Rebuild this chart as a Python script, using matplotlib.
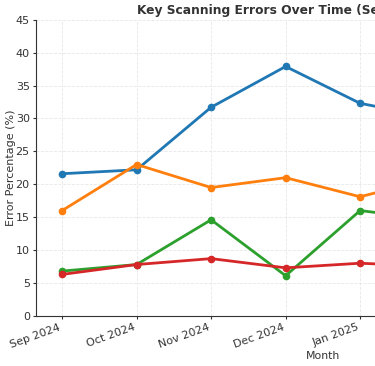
import matplotlib
matplotlib.use("Agg")
import matplotlib.pyplot as plt

months = ["Sep 2024", "Oct 2024", "Nov 2024", "Dec 2024",
          "Jan 2025", "Feb 2025", "Mar 2025", "Apr 2025"]
missed_keys = [21.6, 22.2, 31.7, 37.9, 32.3, 30.1, 27.5, 25.0]
false_positives = [16.0, 23.0, 19.5, 21.0, 18.1, 21.0, 19.0, 17.5]
timeouts = [6.8, 7.8, 14.6, 6.1, 16.0, 14.6, 12.0, 10.5]
checksum_errors = [6.3, 7.8, 8.7, 7.3, 8.0, 7.5, 7.0, 6.8]

series = [
    ("Missed Keys", missed_keys, "#1f77b4"),
    ("False Positives", false_positives, "#ff7f0e"),
    ("Timeouts", timeouts, "#2ca02c"),
    ("Checksum Errors", checksum_errors, "#d62728"),
]

text_color = "#333333"
fig = plt.figure(figsize=(3.75, 3.66), dpi=100)
# the original figure was wider; the axes run past the right edge
ax = fig.add_axes([0.096, 0.137, 1.53, 0.809])

x = list(range(len(months)))
for name, vals, color in series:
    ax.plot(x, vals, marker="o", markersize=4.5, linewidth=2, color=color, label=name)

ax.set_ylim(0, 45)
ax.set_yticks(range(0, 46, 5))
ax.set_xticks(x)
ax.set_xticklabels(months, rotation=20, ha="right")
ax.tick_params(colors=text_color, labelsize=8, length=2.5, width=0.8, pad=2)
ax.grid(True, linestyle="--", color="#dddddd", linewidth=0.6, alpha=0.7)
ax.spines["top"].set_visible(False)
ax.spines["right"].set_visible(False)
for s in ("left", "bottom"):
    ax.spines[s].set_color(text_color)

ax.set_title("Key Scanning Errors Over Time (Sep 2024 - Apr 2025)",
             fontsize=8.8, fontweight="bold", color=text_color, pad=4)
ax.set_ylabel("Error Percentage (%)", fontsize=8, color=text_color, labelpad=0)
ax.set_xlabel("Month", fontsize=7.8, color=text_color, labelpad=1)
ax.legend(loc="upper left", bbox_to_anchor=(1.01, 1), frameon=False, fontsize=7.5)

fig.savefig("out.png", dpi=100)
